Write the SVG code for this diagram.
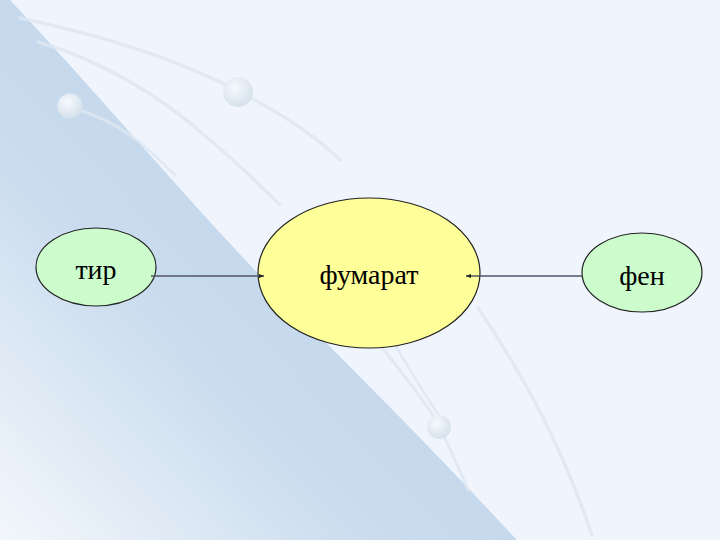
<svg xmlns="http://www.w3.org/2000/svg" width="720" height="540" viewBox="0 0 720 540">
<defs>
<linearGradient id="blue" x1="0.9" y1="0.1" x2="0" y2="1">
<stop offset="0" stop-color="#bcd2e8"/>
<stop offset="0.6" stop-color="#cadcee"/>
<stop offset="1" stop-color="#f3f7fc"/>
</linearGradient>
<radialGradient id="ball" cx="0.4" cy="0.35" r="0.7">
<stop offset="0" stop-color="#f6f9fd"/>
<stop offset="1" stop-color="#d3dfea"/>
</radialGradient>
<marker id="ah" viewBox="0 0 10 10" refX="10" refY="5" markerWidth="5" markerHeight="5" orient="auto" markerUnits="userSpaceOnUse">
<path d="M0,1 L10,5 L0,9 z" fill="#222"/>
</marker>
<style>
.node{stroke:#222;stroke-width:1.2}
.lbl{font-family:"Liberation Serif","Times New Roman",serif;font-size:28px;fill:#000;text-anchor:middle}
.conn{stroke:#4d5566;stroke-width:1.6;fill:none}
.sw{fill:none;stroke:#dde7f1;stroke-linecap:round;opacity:0.8}
</style>
</defs>
<rect width="720" height="540" fill="#f0f5fd"/>
<path d="M0,0 L10,0 C90,85 170,180 250,265 C320,338 400,415 470,490 L517,540 L0,540 z" fill="url(#blue)"/>
<g id="swooshes">
<path class="sw" d="M20,18 C100,35 180,60 240,92 C290,118 320,140 340,160" stroke-width="3.5"/>
<path class="sw" d="M38,42 C100,60 160,95 210,140 C240,165 260,185 280,205" stroke-width="3.5"/>
<path class="sw" d="M72,108 C120,120 150,150 175,175" stroke-width="3"/>
<path class="sw" d="M380,345 C400,370 420,395 436,420 C448,445 458,465 468,490" stroke-width="3"/>
<path class="sw" d="M395,345 C410,370 425,395 442,420" stroke-width="2.5"/>
<path class="sw" d="M478,308 C520,370 560,440 592,535" stroke-width="3.5"/>
<circle cx="238" cy="92" r="15" fill="url(#ball)"/>
<circle cx="70" cy="106" r="12.5" fill="url(#ball)"/>
<circle cx="439" cy="427" r="12" fill="url(#ball)"/>
</g>
<g id="node-tir">
<ellipse class="node" cx="96" cy="267" rx="60" ry="39" fill="#ccfccc"/>
<text class="lbl" x="96" y="279">тир</text>
</g>
<g id="node-fumarat">
<ellipse class="node" cx="369" cy="273" rx="111" ry="75" fill="#ffff99"/>
<text class="lbl" x="369" y="284">фумарат</text>
</g>
<g id="node-fen">
<ellipse class="node" cx="642" cy="272.5" rx="60" ry="39.5" fill="#ccfccc"/>
<text class="lbl" x="642" y="285">фен</text>
</g>
<g id="connectors">
<line class="conn" x1="151" y1="276" x2="264" y2="276" marker-end="url(#ah)"/>
<line class="conn" x1="582" y1="276" x2="466" y2="276" marker-end="url(#ah)"/>
</g>
</svg>
